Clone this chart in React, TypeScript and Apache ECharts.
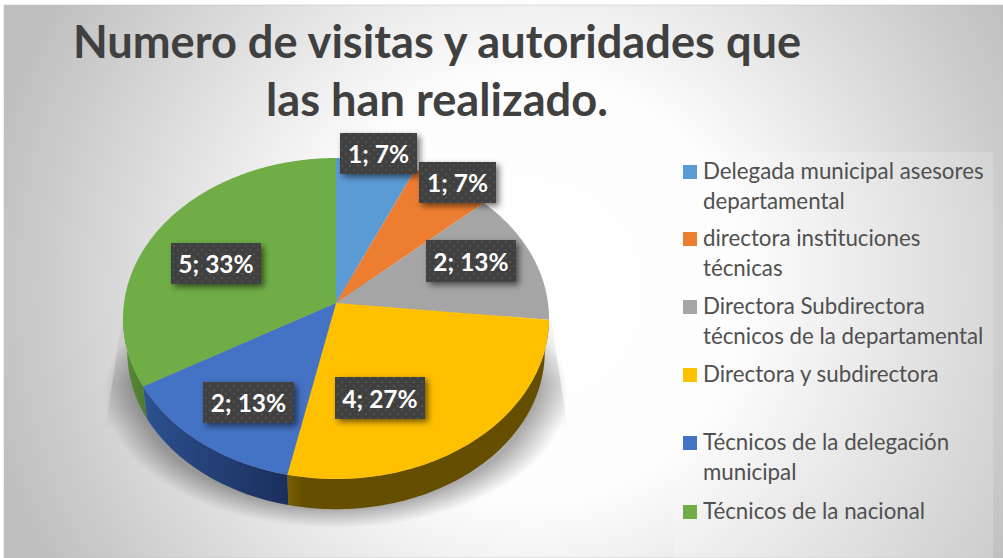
import React, { useEffect, useRef } from "react";
import * as echarts from "echarts";

const titleText = "Numero de visitas y autoridades que\nlas han realizado.";
const categories = [
  "Delegada municipal asesores\ndepartamental",
  "directora instituciones\ntécnicas",
  "Directora Subdirectora\ntécnicos de la departamental",
  "Directora y subdirectora",
  "Técnicos de la delegación\nmunicipal",
  "Técnicos de la nacional",
];
const values = [1, 1, 2, 4, 2, 5];
const colors = ["#5B9BD5", "#ED7D31", "#A5A5A5", "#FFC000", "#4472C4", "#70AD47"];
const wallLeft = ["#3F6F9C", "#A8561F", "#737373", "#7A5E00", "#2F5597", "#5A8C38"];
const wallMid = ["#3A6690", "#9A4F1C", "#6B6B6B", "#664E00", "#2B4E8C", "#5A8C38"];
const wallRight = ["#335A80", "#8A4619", "#5E5E5E", "#664E00", "#1B2F5C", "#4F7B30"];

// layout (kept apart from data)
const labelBoxes = [
  [340, 133, 77, 41],
  [419, 162, 77, 41],
  [426, 240, 90, 42],
  [335, 377, 90, 42],
  [203, 382, 91, 41],
  [171, 243, 90, 41],
];
const legendRowY = [171, 238, 306, 374, 442, 511];
const FONT = "Lato";
const LEGEND_FONT = 22.3;
const LEGEND_LINE = 30;

// perspective disc
const CX = 336;
const CY = 303;
const A = 212;
const B = 159;
const K = 0.0966;
const DEPTH = 33.7;
const LOWER = 0.98;

const project = (deg: number): [number, number] => {
  const t = (deg * Math.PI) / 180;
  const d = 1 + K * Math.cos(t);
  return [CX + (A * Math.sin(t)) / d, CY - (B * Math.cos(t)) / d];
};
const projectLower = (deg: number): [number, number] => {
  const [x, y] = project(deg);
  return [CX + (x - CX) * LOWER, CY + DEPTH + (y - CY) * LOWER];
};
const total = values.reduce((a, b) => a + b, 0);
const sliceRange = (i: number): [number, number] => {
  const before = values.slice(0, i).reduce((a, b) => a + b, 0);
  return [(before / total) * 360, ((before + values[i]) / total) * 360];
};
const arc = (from: number, to: number, fn: (d: number) => [number, number]) => {
  const pts: [number, number][] = [];
  const n = Math.max(2, Math.ceil(Math.abs(to - from)));
  for (let i = 0; i <= n; i++) pts.push(fn(from + ((to - from) * i) / n));
  return pts;
};
const WALL_FROM = 95.5;
const WALL_TO = 264.5;

const makePattern = () => {
  const c = document.createElement("canvas");
  c.width = 8;
  c.height = 8;
  const g = c.getContext("2d")!;
  g.fillStyle = "#404040";
  g.fillRect(0, 0, 8, 8);
  g.fillStyle = "#505050";
  g.fillRect(1, 1, 2, 2);
  g.fillRect(5, 5, 2, 2);
  return c;
};

export default function App() {
  const ref = useRef<HTMLDivElement>(null);
  useEffect(() => {
    document.body.style.margin = "0";
    const chart = echarts.init(ref.current!, undefined, { renderer: "svg" });
    const pattern = makePattern();

    const legendGraphics: any[] = [];
    categories.forEach((name, i) => {
      legendGraphics.push({
        type: "rect",
        shape: { x: 683, y: legendRowY[i] - 6, width: 14, height: 14 },
        style: { fill: colors[i] },
        z: 5,
      });
      name.split("\n").forEach((line, j) => {
        legendGraphics.push({
          type: "text",
          x: 703,
          y: legendRowY[i] - 1 + j * LEGEND_LINE,
          style: {
            text: line,
            fill: "#505050",
            font: `${LEGEND_FONT}px ${FONT}`,
            verticalAlign: "middle",
          },
          z: 5,
        });
      });
    });

    chart.setOption({
      animation: false,
      title: {
        text: titleText,
        left: 432,
        top: 6,
        textAlign: "center",
        textStyle: {
          fontFamily: FONT,
          fontWeight: "bold",
          fontSize: 45.2,
          lineHeight: 58,
          color: "#404040",
        },
      },
      graphic: [
        {
          type: "rect",
          shape: { x: 4, y: 5, width: 999, height: 553 },
          style: {
            fill: new echarts.graphic.RadialGradient(
              530,
              290,
              560,
              [
                { offset: 0, color: "#FFFFFF" },
                { offset: 0.38, color: "#FDFDFD" },
                { offset: 1, color: "#BEBEBE" },
              ],
              true,
            ),
            stroke: "#BDBDBD",
            lineWidth: 0.5,
          },
          z: -10,
        },
        {
          type: "rect",
          shape: { x: 674, y: 152, width: 319, height: 406 },
          style: { fill: "rgba(255,255,255,0.18)" },
          z: -9,
        },
        {
          type: "polygon",
          shape: { points: [[125, 300], [548, 300], [568, 430], [105, 430]] },
          style: {
            fill: new echarts.graphic.LinearGradient(0, 0, 0, 1, [
              { offset: 0, color: "rgba(0,0,0,0)" },
              { offset: 0.65, color: "rgba(0,0,0,0.12)" },
              { offset: 1, color: "rgba(0,0,0,0)" },
            ]),
          },
          z: -8,
        },
        {
          type: "ellipse",
          shape: { cx: 336, cy: 394, rx: 232, ry: 134 },
          style: {
            fill: new echarts.graphic.RadialGradient(0.5, 0.5, 0.5, [
              { offset: 0, color: "rgba(0,0,0,0.34)" },
              { offset: 0.84, color: "rgba(0,0,0,0.32)" },
              { offset: 1, color: "rgba(0,0,0,0)" },
            ]),
          },
          z: -7,
        },
        ...legendGraphics,
      ],
      series: [
        {
          type: "custom",
          name: "Visitas",
          coordinateSystem: "none",
          silent: true,
          z: 2,
          data: values,
          renderItem: (params: any) => {
            const i = params.dataIndex;
            const [a0, a1] = sliceRange(i);
            const children: any[] = [];
            const w0 = Math.max(a0, WALL_FROM);
            const w1 = Math.min(a1, WALL_TO);
            if (w1 > w0) {
              const upper = arc(w0, w1, project);
              const lower = arc(w1, w0, projectLower);
              const xs = upper.map((p) => p[0]);
              children.push({
                type: "polygon",
                shape: { points: [...upper, ...lower] },
                style: {
                  fill: new echarts.graphic.LinearGradient(
                    Math.min(...xs),
                    0,
                    Math.max(...xs),
                    0,
                    [
                      { offset: 0, color: wallLeft[i] },
                      { offset: 0.06, color: wallMid[i] },
                      { offset: 1, color: wallRight[i] },
                    ],
                    true,
                  ),
                },
              });
            }
            children.push({
              type: "polygon",
              shape: { points: [[CX, CY], ...arc(a0, a1, project)] },
              style: { fill: colors[i] },
            });
            return { type: "group", children };
          },
        },
        {
          type: "custom",
          name: "Etiquetas",
          coordinateSystem: "none",
          silent: true,
          z: 3,
          data: values,
          renderItem: (params: any, api: any) => {
            const i = params.dataIndex;
            const v = api.value(0);
            const [x, y, w, h] = labelBoxes[i];
            return {
              type: "group",
              children: [
                {
                  type: "rect",
                  shape: { x, y, width: w, height: h },
                  style: {
                    fill: "#404040",
                    shadowBlur: 6,
                    shadowOffsetX: 3,
                    shadowOffsetY: 3,
                    shadowColor: "rgba(0,0,0,0.55)",
                  },
                },
                {
                  type: "rect",
                  shape: { x, y, width: w, height: h },
                  style: { fill: { image: pattern, repeat: "repeat" } },
                },
                {
                  type: "text",
                  x: x + w / 2,
                  y: y + h / 2,
                  style: {
                    text: `${v}; ${Math.round((v / total) * 100)}%`,
                    fill: "#FFFFFF",
                    font: `bold 24.5px ${FONT}`,
                    align: "center",
                    verticalAlign: "middle",
                  },
                },
              ],
            };
          },
        },
      ],
    });
    return () => chart.dispose();
  }, []);
  return <div ref={ref} style={{ width: 1003, height: 558 }} />;
}
